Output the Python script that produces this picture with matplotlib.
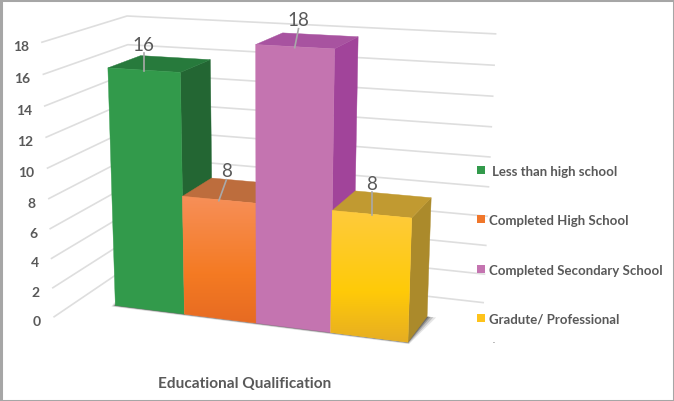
import numpy as np
import matplotlib
matplotlib.use('Agg')
from matplotlib import pyplot as plt
from matplotlib.patches import Polygon, Rectangle

plt.rcParams['font.family'] = ['Lato', 'DejaVu Sans']

#################
# chart values  #
#################
categories = ['Less than high school', 'Completed High School',
              'Completed Secondary School', 'Gradute/ Professional']
values = [16, 8, 18, 8]
yticks = [0, 2, 4, 6, 8, 10, 12, 14, 16, 18]
axis_title = 'Educational Qualification'

front_colors = [['#329A4B'], ['#F78F58', '#F47A22', '#E76B23'], ['#C474B0'], ['#FECB3C', '#FFCA08', '#E7AE22']]
side_colors = ['#236633', '#B0623A', '#A1449A', '#AB8A2B']
top_colors = ['#277A3C', '#BD6D3D', '#A853A0', '#C19A31']

# leader line ends relative to the front edge of each bar, pixels
label_offset = [(0, -26), (8, -29), (4, -27), (0, -31)]

#######################################
# camera: (x, depth, value) -> pixels #
#######################################
calib = np.array([
    (0, 0, 0, 115, 306), (1, 0, 0, 184, 315), (2, 0, 0, 256, 324),
    (3, 0, 0, 330, 333), (4, 0, 0, 408, 345), (0, 0, 16, 109, 68),
    (1, 0, 16, 181, 74), (1, 0, 8, 183, 198), (2, 0, 8, 256, 204),
    (2, 0, 18, 256, 45), (3, 0, 18, 334, 49), (3, 0, 8, 332, 212),
    (4, 0, 8, 411, 219), (0, 1, 16, 138, 57), (1, 1, 16, 211, 61),
    (2, 1, 18, 283, 34), (3, 1, 18, 358, 38), (4, 1, 8, 431, 198),
    (4, 1, 0, 428, 316), (3, 1, 8, 355, 193), (1, 1, 8, 213, 179),
], dtype=float)

A = []
b = []
for x, d, v, u, w in calib:
    A.append([x, d, v, 1, 0, 0, 0, 0, -u*x, -u*d, -u*v])
    A.append([0, 0, 0, 0, x, d, v, 1, -w*x, -w*d, -w*v])
    b += [u, w]
sol = np.linalg.lstsq(np.array(A), np.array(b), rcond=None)[0]
P = np.append(sol, 1.0).reshape(3, 4)


def project(x, d, v):
    h = P @ np.array([x, d, v, 1.0])
    return h[0]/h[2], h[1]/h[2]


def unproject(u, w, v):
    # x and depth of a pixel, on the plane of value v
    r1 = P[0] - u*P[2]
    r2 = P[1] - w*P[2]
    M = np.array([r1[:2], r2[:2]])
    rhs = -np.array([r1[2]*v + r1[3], r2[2]*v + r2[3]])
    return np.linalg.solve(M, rhs)


# wall positions from the back corner and line ends
x_left, d_back = unproject(127, 17, 18)
x_right = unproject(494, 36, 18)[0]
d_front = unproject(38, 43, 18)[1]

fig = plt.figure(figsize=(6.74, 4.02), dpi=100)
ax = fig.add_axes([0, 0, 1, 1])

###############
# grid lines  #
###############
for t in yticks:
    pts = np.array([project(x_left, d_front, t), project(x_left, d_back, t), project(x_right, d_back, t)])
    ax.plot(pts[:, 0], pts[:, 1], color='#DEDEDE', lw=1.2, zorder=1)
    ax.text(pts[0, 0]-13, pts[0, 1]+4, str(t), ha='right', va='center', fontsize=10,
            fontweight='bold', color='#595959', zorder=2)

###########
# shadow  #
###########
for grow, alpha in zip([0.10, 0.07, 0.04, 0.02], [0.12, 0.2, 0.3, 0.4]):
    shadow = [project(-grow, 0.3, 0), project(-grow*0.3, -grow*0.6, 0), project(4+grow*0.3, -grow*0.6, 0),
              project(4+grow*1.2, 1.0, 0)]
    ax.add_patch(Polygon(shadow, closed=True, fc='#303030', ec='none', alpha=alpha, zorder=3))

#########
# bars  #
#########
for i, val in enumerate(values):
    front = [project(i, 0, 0), project(i+1, 0, 0), project(i+1, 0, val), project(i, 0, val)]
    side = [project(i+1, 0, 0), project(i+1, 1, 0), project(i+1, 1, val), project(i+1, 0, val)]
    top = [project(i, 0, val), project(i+1, 0, val), project(i+1, 1, val), project(i, 1, val)]

    z = 4 + i
    ax.add_patch(Polygon(side, closed=True, fc=side_colors[i], ec=side_colors[i], lw=0.3, zorder=z))
    ax.add_patch(Polygon(top, closed=True, fc=top_colors[i], ec=top_colors[i], lw=0.3, zorder=z))

    cols = front_colors[i]
    patch = Polygon(front, closed=True, fc=cols[0], ec=cols[0], lw=0.3, zorder=z)
    ax.add_patch(patch)
    if len(cols) > 1:
        # vertical gradient, clipped to the front face
        rgb = np.array([matplotlib.colors.to_rgb(c) for c in cols])
        n = 64
        pos = np.linspace(0, 1, n)
        grad = np.stack([np.interp(pos, [0, 0.62, 1], rgb[:, k]) for k in range(3)], axis=1)[:, None, :]
        fr = np.array(front)
        im = ax.imshow(grad, extent=[fr[:, 0].min(), fr[:, 0].max(), fr[:, 1].max(), fr[:, 1].min()],
                       aspect='auto', zorder=z+0.1, interpolation='bilinear')
        im.set_clip_path(Polygon(front, closed=True, transform=ax.transData))

#################
# value labels  #
#################
for i, val in enumerate(values):
    u, w = project(i+0.5, 0, val)
    du, dw = label_offset[i]
    ax.plot([u, u+du*0.95], [w+1, w+dw+9], color='#A9A9A9', lw=1.2, zorder=10)
    ax.text(u+du, w+dw, str(val), ha='center', va='center', fontsize=13.5, color='#595959', zorder=11)

###########
# legend  #
###########
legend_colors = ['#329A4B', '#F0772B', '#C474B0', '#FEC31B']
legend_x = [492, 489, 489, 489]
legend_y = [171, 220, 270, 319]
for name, col, lx, ly in zip(categories, legend_colors, legend_x, legend_y):
    ax.add_patch(Rectangle((477, ly-4), 8, 8, fc=col, ec='none', zorder=12))
    ax.text(lx, ly+1, name, ha='left', va='center', fontsize=9.5, fontweight='bold', color='#595959', zorder=12)
ax.text(494, 341, '.', ha='center', va='center', fontsize=6, color='#595959')

ax.text(245, 384, axis_title, ha='center', va='center', fontsize=11.1, fontweight='bold', color='#595959')

# image frame
ax.add_patch(Rectangle((0.5, 0.5), 673, 401, fc='none', ec='#A6A6A6', lw=2.2, zorder=20))

ax.set_xlim(0, 674)
ax.set_ylim(402, 0)
ax.axis('off')

fig.savefig('out.png', dpi=100)
